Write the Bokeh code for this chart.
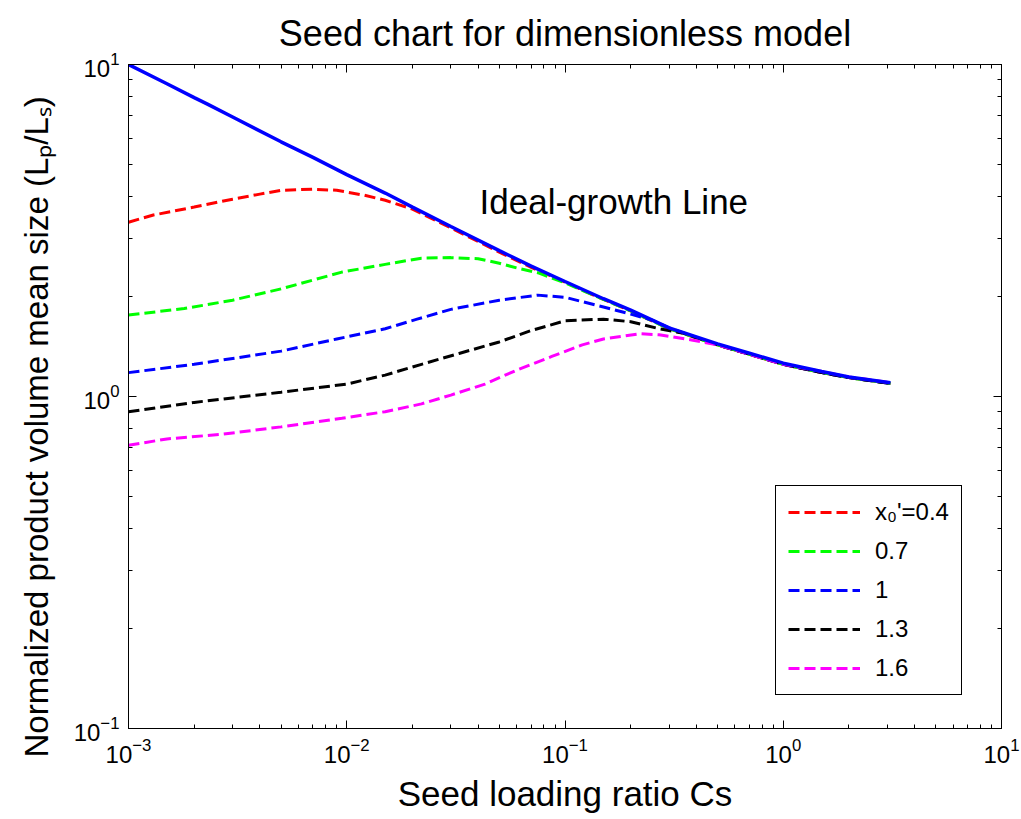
from bokeh.plotting import figure
from bokeh.models import (LogAxis, FixedTicker, LogTickFormatter, Legend, LegendItem,
                          Label, Title, CustomJSTickFormatter)
from bokeh.embed import file_html
from bokeh.resources import INLINE

# Ideal-growth line (seed loading ratio vs normalized product size)
cs_ideal = [0.001, 0.0015, 0.002, 0.0023, 0.003, 0.005, 0.007, 0.01, 0.015, 0.02,
            0.03, 0.05, 0.07, 0.1, 0.15, 0.2, 0.3, 0.5, 0.7, 1.0, 1.5, 2.0, 3.1]
lp_ideal = [10.0, 8.75, 7.95, 7.6, 6.95, 5.85, 5.25, 4.66, 4.1, 3.72,
            3.25, 2.75, 2.47, 2.22, 1.97, 1.82, 1.61, 1.44, 1.35, 1.26, 1.19, 1.145, 1.10]

# x0' = 0.4
cs_04 = [0.001, 0.0013, 0.002, 0.003, 0.004, 0.005, 0.007, 0.009, 0.012, 0.015, 0.02,
         0.03, 0.04, 0.05, 0.07, 0.1, 0.15, 0.2, 0.3, 0.5, 0.7, 1.0, 1.5, 2.0, 3.1]
lp_04 = [3.35, 3.52, 3.72, 3.93, 4.07, 4.18, 4.21, 4.18, 4.04, 3.9, 3.67,
         3.22, 2.93, 2.72, 2.45, 2.21, 1.96, 1.81, 1.6, 1.43, 1.34, 1.25, 1.18, 1.14, 1.095]

# x0' = 0.7
cs_07 = [0.001, 0.0018, 0.003, 0.005, 0.0095, 0.015, 0.022, 0.03, 0.04, 0.05, 0.06,
         0.075, 0.1, 0.15, 0.2, 0.3, 0.5, 0.7, 1.0, 1.5, 2.0, 3.1]
lp_07 = [1.76, 1.84, 1.95, 2.11, 2.37, 2.5, 2.61, 2.62, 2.6, 2.52, 2.44,
         2.36, 2.2, 1.96, 1.81, 1.6, 1.43, 1.34, 1.25, 1.18, 1.14, 1.095]

# x0' = 1
cs_10 = [0.001, 0.002, 0.005, 0.009, 0.015, 0.021, 0.03, 0.05, 0.075, 0.1, 0.15,
         0.2, 0.25, 0.3, 0.5, 0.7, 1.0, 1.5, 2.0, 3.1]
lp_10 = [1.18, 1.25, 1.37, 1.49, 1.6, 1.71, 1.83, 1.95, 2.02, 1.99, 1.86,
         1.77, 1.7, 1.61, 1.43, 1.34, 1.25, 1.18, 1.14, 1.095]

# x0' = 1.3
cs_13 = [0.001, 0.002, 0.005, 0.01, 0.015, 0.022, 0.033, 0.05, 0.07, 0.1, 0.15,
         0.2, 0.27, 0.35, 0.5, 0.7, 1.0, 1.5, 2.0, 3.1]
lp_13 = [0.90, 0.96, 1.03, 1.09, 1.16, 1.25, 1.35, 1.46, 1.58, 1.69, 1.71,
         1.68, 1.6, 1.55, 1.43, 1.34, 1.25, 1.18, 1.14, 1.095]

# x0' = 1.6
cs_16 = [0.001, 0.0015, 0.0027, 0.005, 0.0095, 0.015, 0.022, 0.03, 0.043, 0.06, 0.087,
         0.12, 0.15, 0.22, 0.27, 0.38, 0.5, 0.7, 1.0, 1.5, 2.0, 3.1]
lp_16 = [0.713, 0.745, 0.77, 0.81, 0.86, 0.9, 0.95, 1.01, 1.09, 1.2, 1.32,
         1.43, 1.49, 1.545, 1.535, 1.48, 1.43, 1.34, 1.25, 1.19, 1.145, 1.10]

series_labels = ["x\u2080'=0.4", "0.7", "1", "1.3", "1.6"]
series_colors = ["#ff0000", "#00ff00", "#0000ff", "#000000", "#ff00ff"]
series_data = [(cs_04, lp_04), (cs_07, lp_07), (cs_10, lp_10), (cs_13, lp_13), (cs_16, lp_16)]

# decades shown on each axis
x_decades = [-3, -2, -1, 0, 1]
y_decades = [-1, 0, 1]

FONT = "Liberation Sans"


def decade_ticks(decades):
    major = [10.0 ** d for d in decades]
    minor = [m * 10.0 ** d for d in decades[:-1] for m in range(2, 10)]
    return FixedTicker(ticks=major, minor_ticks=minor)


p = figure(width=1021, height=819, x_axis_type="log", y_axis_type="log",
           x_range=(10.0 ** x_decades[0], 10.0 ** x_decades[-1]),
           y_range=(10.0 ** y_decades[0], 10.0 ** y_decades[-1]),
           output_backend="svg", toolbar_location=None,
           min_border_left=126, min_border_right=20,
           min_border_top=62, min_border_bottom=91)
p.background_fill_color = "white"
p.border_fill_color = "white"
p.outline_line_color = "black"
p.outline_line_width = 1
p.grid.visible = False

p.title.text = "Seed chart for dimensionless model"
p.title.align = "center"
p.title.text_font = FONT
p.title.text_font_size = "36px"
p.title.text_font_style = "normal"
p.title.text_color = "black"
p.title.standoff = 21


def style_axis(ax, decades, show_labels=True):
    ax.ticker = decade_ticks(decades)
    ax.axis_line_color = "black"
    ax.major_tick_line_color = "black"
    ax.minor_tick_line_color = "black"
    ax.major_tick_in = 8
    ax.major_tick_out = 0
    ax.minor_tick_in = 4
    ax.minor_tick_out = 0
    if show_labels:
        ax.formatter = LogTickFormatter()
        ax.major_label_text_font = FONT
        ax.major_label_text_font_size = "24px"
        ax.major_label_text_color = "black"
        ax.major_label_standoff = 9
        ax.axis_label_text_font = FONT
        ax.axis_label_text_font_style = "normal"
        ax.axis_label_text_color = "black"
    else:
        # tick marks only: labels are blank strings
        ax.formatter = CustomJSTickFormatter(code="return ''")
        ax.major_label_text_font_size = "2px"
        ax.major_label_standoff = 0


style_axis(p.xaxis[0], x_decades)
style_axis(p.yaxis[0], y_decades)
p.xaxis[0].axis_label = "Seed loading ratio Cs"
p.xaxis[0].axis_label_text_font_size = "35px"
p.xaxis[0].axis_label_standoff = 8

top_axis = LogAxis()
style_axis(top_axis, x_decades, show_labels=False)
p.add_layout(top_axis, "above")
right_axis = LogAxis()
style_axis(right_axis, y_decades, show_labels=False)
p.add_layout(right_axis, "right")

# y-axis title, set in the left panel and started just below the frame bottom
y_title = Title(text="Normalized product volume mean size (L\u209a/L\u209b)",
                align="left", offset=-29, standoff=31,
                text_font=FONT, text_font_size="33px", text_font_style="normal",
                text_color="black")
p.add_layout(y_title, "left")

items = []
for (cs, lp), col, lab in zip(series_data, series_colors, series_labels):
    r = p.line(cs, lp, line_color=col, line_width=3, line_dash="11 5")
    items.append(LegendItem(label=lab, renderers=[r]))

p.line(cs_ideal, lp_ideal, line_color="#0000ff", line_width=3.5)

p.add_layout(Label(x=0.0406, y=3.88, text="Ideal-growth Line", text_font=FONT,
                   text_font_size="35px", text_color="black",
                   text_baseline="alphabetic", text_align="left"))

legend = Legend(items=items, location=(647, 33), orientation="vertical",
                label_text_font=FONT, label_text_font_size="24px",
                label_text_line_height=0.9, label_text_color="black",
                glyph_width=72, glyph_height=26, label_height=26,
                label_standoff=15, spacing=11, padding=12, margin=0,
                border_line_color="black", border_line_width=1, border_line_alpha=1.0,
                background_fill_color="white", background_fill_alpha=1.0)
p.add_layout(legend, "center")

open("out.html", "w").write(file_html(p, INLINE))
